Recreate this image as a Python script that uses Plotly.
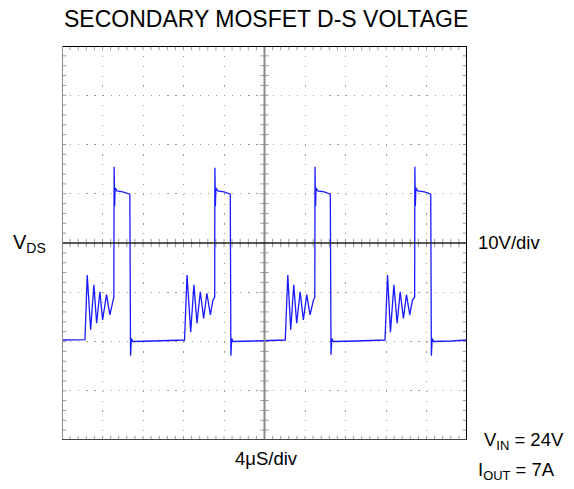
import numpy as np
import plotly.graph_objects as go

# ---- data (read from the scope capture): time in µs, V_DS in volts ----
time_us = [
    0.00, 1.00, 2.27, 2.49, 2.83, 3.15, 3.42, 3.74, 4.01, 4.40, 4.73, 5.05, 5.12, 5.15, 5.20, 5.25,
    5.42, 6.00, 6.70, 6.77, 6.85, 6.99, 9.00, 12.10,
    12.35, 12.71, 13.03, 13.33, 13.66, 13.99, 14.31, 14.65, 14.91, 15.08, 15.10, 15.15, 15.20, 15.38,
    16.00, 16.62, 16.68, 16.76, 16.90, 19.00, 22.05,
    22.30, 22.59, 22.89, 23.18, 23.52, 23.84, 24.17, 24.50, 24.83, 24.97, 24.99, 25.04, 25.09, 25.26,
    25.90, 26.50, 26.57, 26.65, 26.80, 29.00, 31.90,
    32.15, 32.44, 32.78, 33.10, 33.40, 33.72, 34.02, 34.35, 34.61, 34.83, 34.85, 34.90, 34.95, 35.12,
    35.80, 36.42, 36.48, 36.56, 36.70, 38.50, 40.00,
]
vds_v = [
    -19.7, -19.7, -19.6, -6.5, -17.6, -8.5, -16.3, -9.9, -15.6, -10.5, -14.6, -11.6, -11.0, 15.5, 7.5, 11.2,
    10.6, 10.4, 9.9, -22.9, -19.4, -20.0, -19.9, -19.7,
    -6.5, -18.1, -8.5, -16.3, -9.9, -15.3, -10.2, -14.6, -11.6, -11.0, 15.3, 7.5, 11.2, 10.6,
    10.4, 9.9, -22.9, -19.4, -20.0, -19.9, -19.7,
    -6.5, -17.6, -8.5, -16.3, -9.9, -15.6, -10.5, -14.6, -11.6, -11.0, 15.5, 7.5, 11.2, 10.6,
    10.4, 9.9, -22.7, -19.4, -20.0, -19.9, -19.7,
    -6.5, -18.1, -8.5, -16.3, -9.9, -15.3, -10.5, -14.6, -11.6, -11.0, 15.5, 7.5, 11.2, 10.6,
    10.4, 9.9, -22.9, -19.4, -20.0, -19.9, -19.7,
]

title_text = "SECONDARY MOSFET D-S VOLTAGE"
ch_label = "V<sub>DS</sub>"
v_scale = "10V/div"
t_scale = "4μS/div"
cond_vin = "V<sub>IN</sub> = 24V"
cond_iout = "I<sub>OUT</sub> = 7A"

X0, X1 = 0.0, 40.0
Y0, Y1 = -40.0, 40.0
XDIV, YDIV = 4.0, 10.0
XC, YC = 20.0, 0.0

FONT = "Liberation Sans, Arial, sans-serif"
GRID = "#9a9a9a"

fig = go.Figure()

# scale tick marks (1/5 division) on the centre lines and borders
xt = np.arange(X0, X1 + 1e-9, XDIV / 5)
yt = np.arange(Y0, Y1 + 1e-9, YDIV / 5)
tick_x = list(xt) * 3
tick_y = [YC] * len(xt) + [Y0] * len(xt) + [Y1] * len(xt)
fig.add_trace(go.Scatter(x=tick_x, y=tick_y, mode="markers", hoverinfo="skip",
                         marker=dict(symbol="line-ns", size=6, line=dict(width=1, color=GRID))))
tick_y2 = list(yt) * 3
tick_x2 = [XC] * len(yt) + [X0] * len(yt) + [X1] * len(yt)
fig.add_trace(go.Scatter(x=tick_x2, y=tick_y2, mode="markers", hoverinfo="skip",
                         marker=dict(symbol="line-ew", size=6, line=dict(width=1, color=GRID))))

# waveform
fig.add_trace(go.Scatter(x=time_us, y=vds_v, mode="lines",
                         line=dict(color="#1a1aff", width=1.3), hoverinfo="skip"))

# centre lines and border
shapes = [
    dict(type="line", xref="x", yref="y", x0=XC, x1=XC, y0=Y0, y1=Y1, line=dict(color="#8c8c8c", width=2)),
    dict(type="line", xref="x", yref="y", x0=X0, x1=X1, y0=YC, y1=YC, line=dict(color="#222222", width=1.6)),
    dict(type="line", xref="x", yref="y", x0=X0, x1=X1, y0=Y1, y1=Y1, line=dict(color="#000000", width=2)),
    dict(type="line", xref="x", yref="y", x0=X1, x1=X1, y0=Y0, y1=Y1, line=dict(color="#000000", width=2)),
    dict(type="line", xref="x", yref="y", x0=X0, x1=X0, y0=Y0, y1=Y1, line=dict(color="#8c8c8c", width=2)),
    dict(type="line", xref="x", yref="y", x0=X0, x1=X1, y0=Y0, y1=Y0, line=dict(color="#444444", width=2)),
]

ann = [
    dict(text=title_text, x=0.503, y=1.069, font=dict(size=23), xanchor="center", yanchor="middle"),
    dict(text=ch_label, x=-0.034, y=0.50, font=dict(size=20), xanchor="right", yanchor="middle"),
    dict(text=v_scale, x=1.022, y=0.5025, font=dict(size=18.5), xanchor="left", yanchor="middle"),
    dict(text=t_scale, x=0.422, y=-0.048, font=dict(size=18.5), xanchor="left", yanchor="middle"),
    dict(text=cond_vin, x=1.037, y=-0.003, font=dict(size=18.5), xanchor="left", yanchor="middle"),
    dict(text=cond_iout, x=1.022, y=-0.078, font=dict(size=18.5), xanchor="left", yanchor="middle"),
]
for a in ann:
    a.update(xref="paper", yref="paper", showarrow=False)
    a["font"].update(family=FONT, color="#000000")

# page body adds an 8px offset, so the figure is 8px smaller than the window
fig.update_layout(
    width=566, height=481,
    margin=dict(l=54, r=107, t=38, b=49),
    paper_bgcolor="white", plot_bgcolor="white",
    showlegend=False,
    shapes=shapes, annotations=ann,
    xaxis=dict(range=[X0, X1], dtick=XDIV, tick0=0, showticklabels=False, ticks="",
               showgrid=True, gridcolor=GRID, gridwidth=1, griddash="1.2px,8.65px",
               zeroline=False, showline=False, fixedrange=True),
    yaxis=dict(range=[Y0, Y1], dtick=YDIV, tick0=0, showticklabels=False, ticks="",
               showgrid=True, gridcolor=GRID, gridwidth=1, griddash="1.2px,6.9px",
               zeroline=False, showline=False, fixedrange=True),
)

fig.write_html("out.html")
